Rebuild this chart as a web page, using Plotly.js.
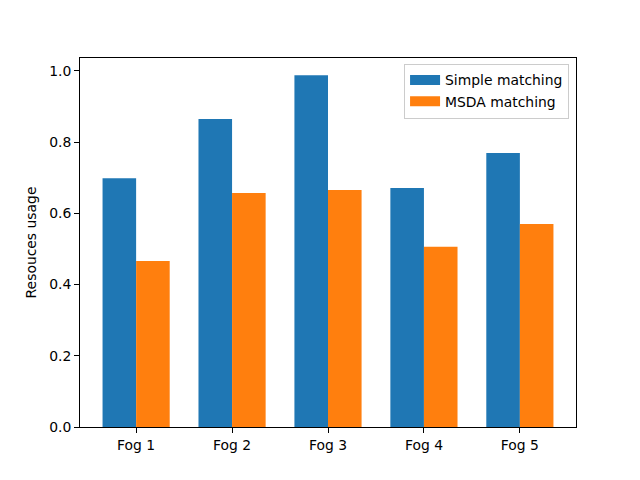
<!DOCTYPE html>
<html>
<head>
<meta charset="utf-8">
<script src="https://cdn.plot.ly/plotly-3.0.1.min.js"></script>
<style>html,body{margin:0;padding:0;background:#fff;}#chart{width:640px;height:480px;}</style>
</head>
<body>
<div id="chart"></div>
<script>
const categories = ["Fog 1", "Fog 2", "Fog 3", "Fog 4", "Fog 5"];
const seriesNames = ["Simple matching", "MSDA matching"];
const simpleMatching = [0.699, 0.865, 0.988, 0.671, 0.770];
const msdaMatching = [0.466, 0.657, 0.666, 0.506, 0.570];
const yTicks = [0.0, 0.2, 0.4, 0.6, 0.8, 1.0];
const yTickText = ["0.0", "0.2", "0.4", "0.6", "0.8", "1.0"];

const idx = categories.map((_, i) => i);
const w = 0.35;
const colors = ["#1f77b4", "#ff7f0e"];
const font = {family: "DejaVu Sans", size: 13.9, color: "#000"};

const traces = [
  {type: "bar", name: seriesNames[0], x: idx, y: simpleMatching, width: w, offset: -w,
   marker: {color: colors[0], line: {width: 0}}, showlegend: false},
  {type: "bar", name: seriesNames[1], x: idx, y: msdaMatching, width: w, offset: 0,
   marker: {color: colors[1], line: {width: 0}}, showlegend: false},
  // legend swatches (wide rectangles like matplotlib)
  {type: "scatter", mode: "lines", name: seriesNames[0], x: [null], y: [null],
   line: {color: colors[0], width: 10}, hoverinfo: "skip"},
  {type: "scatter", mode: "lines", name: seriesNames[1], x: [null], y: [null],
   line: {color: colors[1], width: 10}, hoverinfo: "skip"}
];

const layout = {
  width: 640, height: 480,
  margin: {l: 80, r: 64, t: 58, b: 53},
  paper_bgcolor: "#fff", plot_bgcolor: "#fff",
  font: font,
  barmode: "overlay",
  showlegend: true,
  legend: {x: 0.986, xanchor: "right", y: 0.985, yanchor: "top",
           bgcolor: "rgba(255,255,255,0.8)", bordercolor: "#cccccc", borderwidth: 1,
           font: font, traceorder: "normal"},
  xaxis: {range: [-0.585, 4.585], tickvals: idx, ticktext: categories,
          showgrid: false, zeroline: false, showline: true, mirror: true,
          linecolor: "#000", linewidth: 1, ticks: "outside", ticklen: 5, tickcolor: "#000",
          tickfont: font},
  yaxis: {range: [0, 1.0365], tickvals: yTicks, ticktext: yTickText,
          showgrid: false, zeroline: false, showline: true, mirror: true,
          linecolor: "#000", linewidth: 1, ticks: "outside", ticklen: 5, tickcolor: "#000",
          tickfont: font, title: {text: "Resouces usage", font: font, standoff: 9}}
};

Plotly.newPlot("chart", traces, layout, {displayModeBar: false, staticPlot: true});
</script>
</body>
</html>
